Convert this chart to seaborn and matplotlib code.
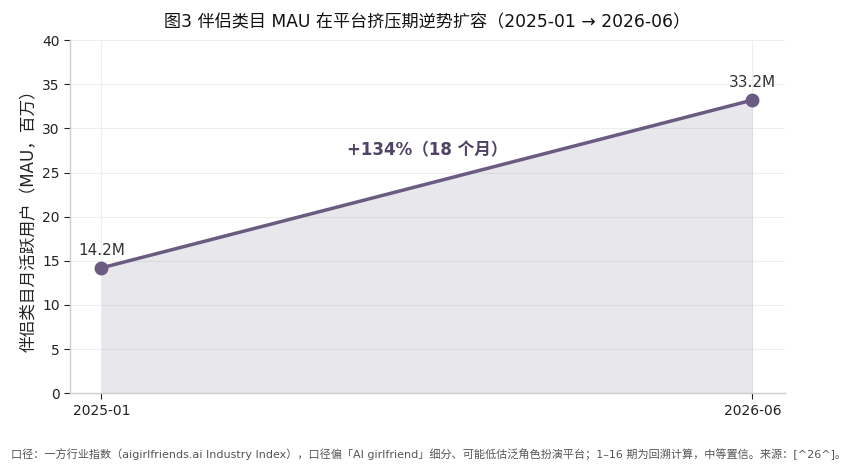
"""Companion category MAU expansion chart."""

import matplotlib
matplotlib.use("Agg")
import matplotlib.pyplot as plt
import pandas as pd
import seaborn as sns

MONTHS = ["2025-01", "2026-06"]
MAU = [14.2, 33.2]
POINT_LABELS = ["14.2M", "33.2M"]
GROWTH_LABEL = "+134%（18 个月）"

TITLE = "图3 伴侣类目 MAU 在平台挤压期逆势扩容（2025-01 → 2026-06）"
Y_LABEL = "伴侣类目月活跃用户（MAU，百万）"
FOOTNOTE = ("口径：一方行业指数（aigirlfriends.ai Industry Index），口径偏「AI girlfriend」细分、"
            "可能低估泛角色扮演平台；1–16 期为回溯计算，中等置信。来源：[^26^]。")

LINE_COLOR = "#6b5b80"

sns.set_theme(style="whitegrid")
plt.rcParams["font.family"] = ["DejaVu Sans", "Noto Sans CJK SC"]
plt.rcParams["axes.unicode_minus"] = False


def main() -> None:
    df = pd.DataFrame({"month": MONTHS, "mau": MAU})

    fig, ax = plt.subplots(figsize=(8.55, 4.71), dpi=100)
    fig.subplots_adjust(left=0.082, right=0.918, top=0.915, bottom=0.165)
    ax.set_facecolor("white")

    sns.lineplot(data=df, x="month", y="mau", ax=ax, color=LINE_COLOR, linewidth=2.5,
                 marker="o", markersize=10, markeredgewidth=0, sort=False)
    xs = list(range(len(MONTHS)))
    ax.fill_between(xs, MAU, 0, color="#5e5a72", alpha=0.14, linewidth=0)

    for x, y, label in zip(xs, MAU, POINT_LABELS):
        ax.annotate(label, (x, y), xytext=(0, 7), textcoords="offset points",
                    ha="center", va="bottom", fontsize=11, color="#333333")

    ax.text(0.5, 27.5, GROWTH_LABEL, ha="center", va="center", fontsize=12,
            fontweight="bold", color="#4f4466")

    ax.set_xlim(-0.048, 1.05)
    ax.set_ylim(0, 40)
    ax.set_yticks(range(0, 41, 5))
    ax.set_xlabel("")
    ax.set_ylabel(Y_LABEL, fontsize=12, color="#222222")
    ax.set_title(TITLE, fontsize=12.3, color="#111111", pad=9)
    ax.tick_params(axis="both", labelsize=10, colors="#222222", length=4, width=0.8, left=True, bottom=True)
    ax.grid(True, color="#eeeeee", linewidth=0.8)
    for side in ("top", "right"):
        ax.spines[side].set_visible(False)
    for side in ("left", "bottom"):
        ax.spines[side].set_color("#cccccc")
        ax.spines[side].set_linewidth(1.0)

    fig.text(0.013, 0.035, FOOTNOTE, fontsize=8, color="#555555", ha="left", va="center")

    fig.savefig("out.png", dpi=100)
    plt.close(fig)


if __name__ == "__main__":
    main()
